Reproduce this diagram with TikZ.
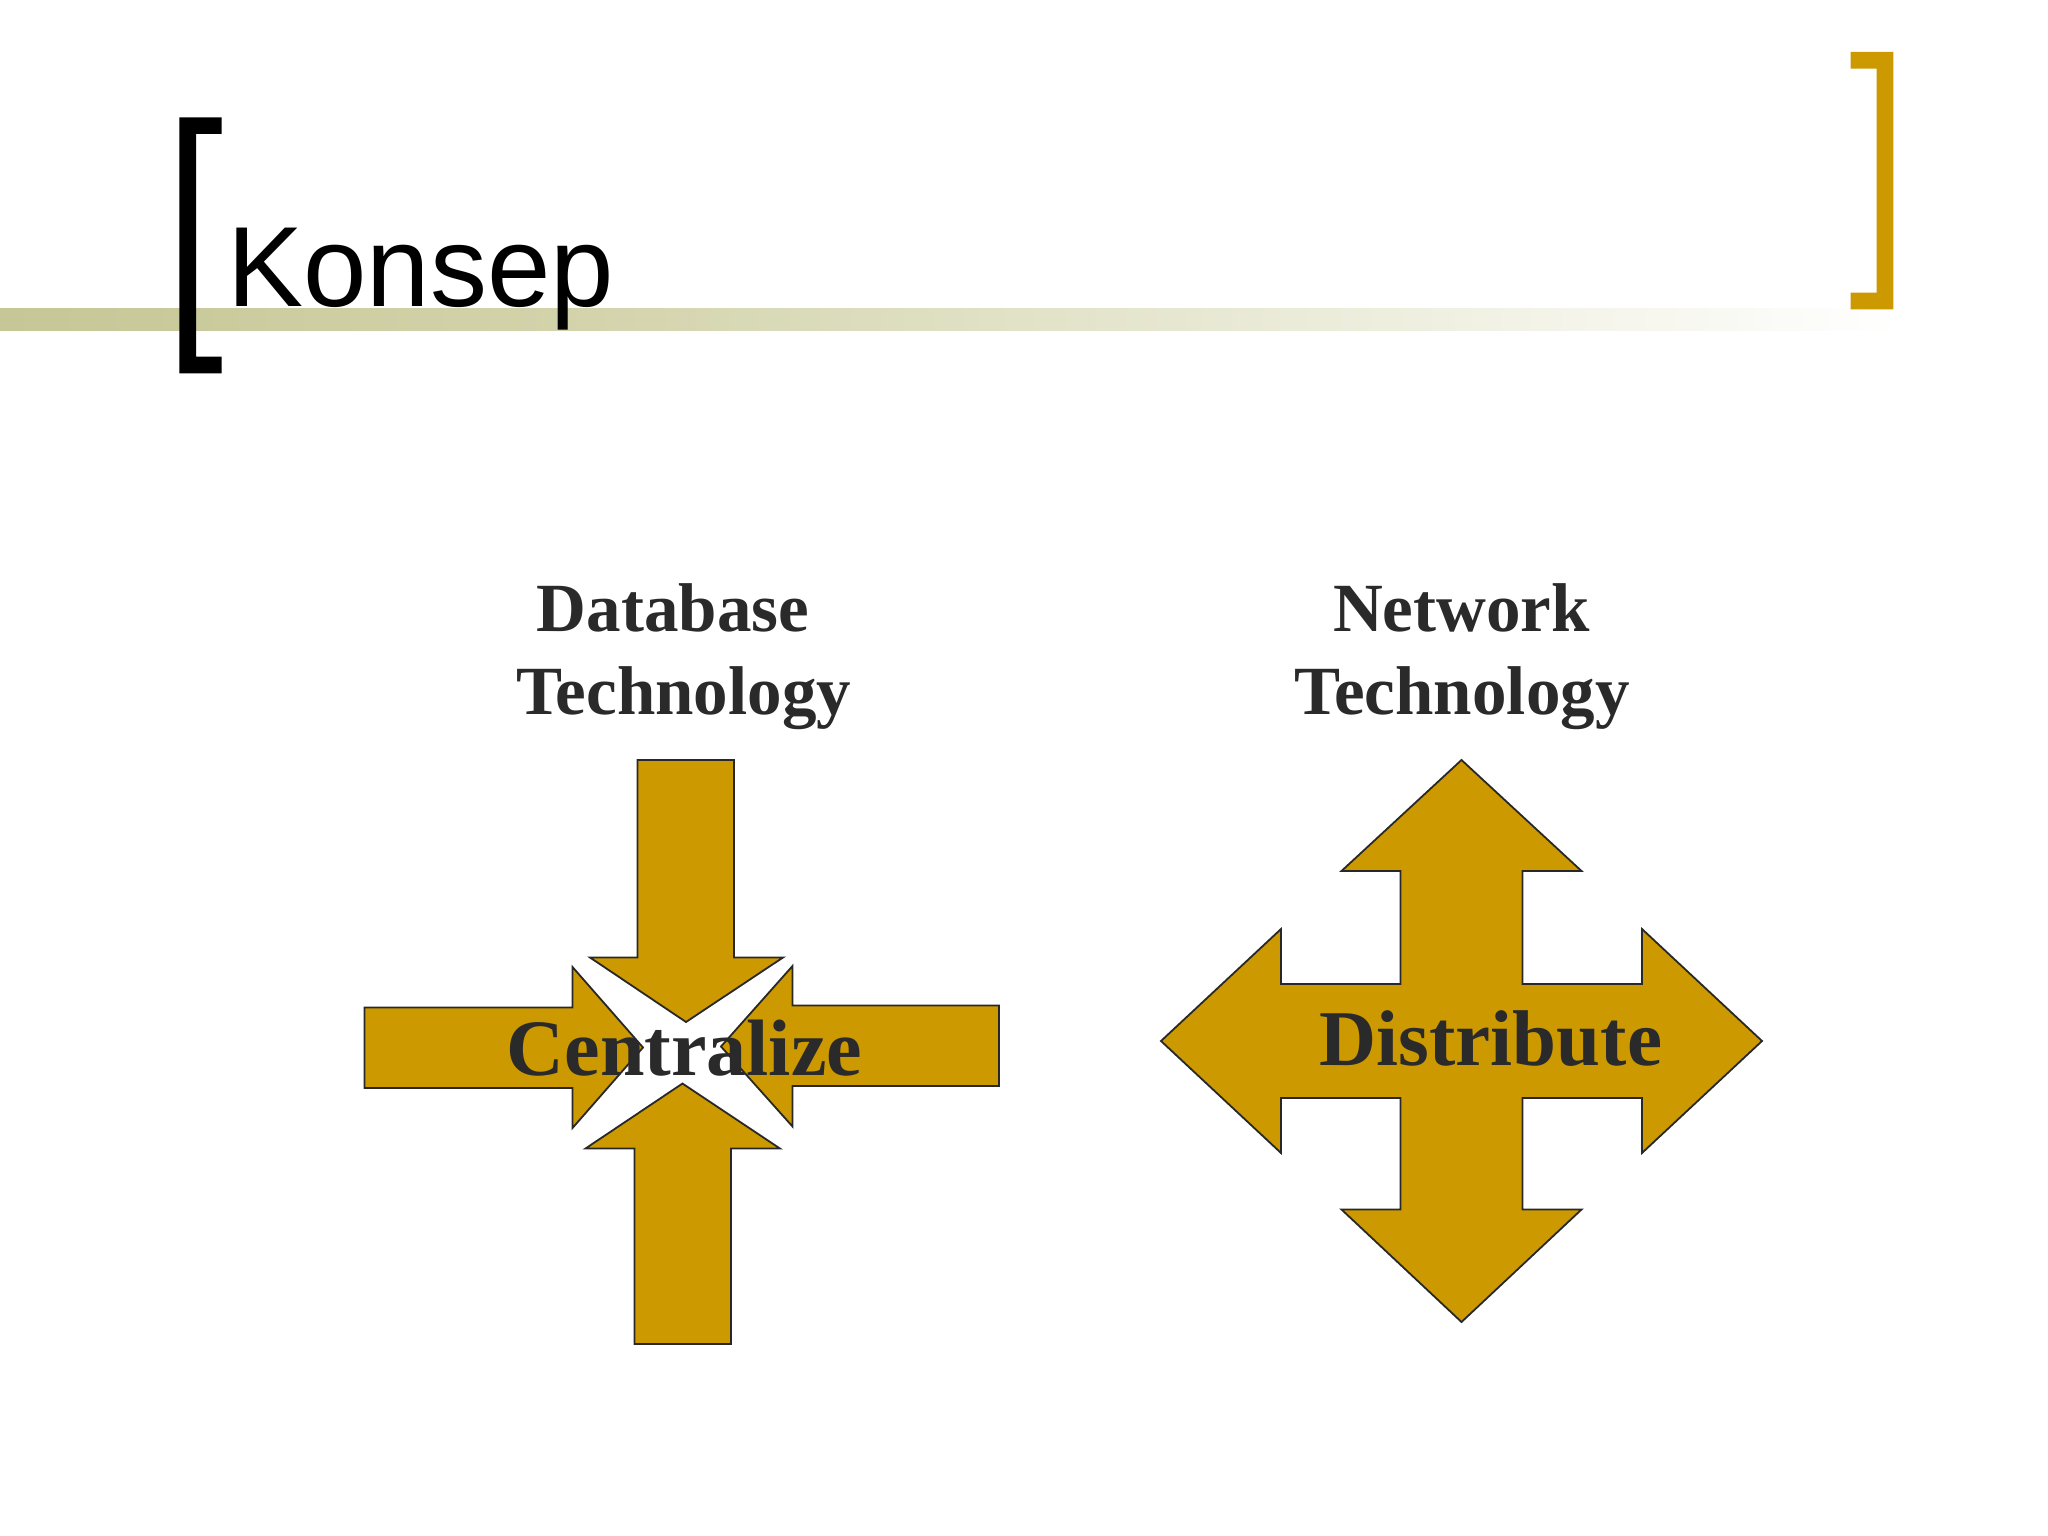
\documentclass[tikz,border=0pt]{standalone}
\usepackage{fontspec}
\newfontfamily\serifbold{Liberation Serif}
\newfontfamily\sansfam{Liberation Sans}
\definecolor{gold}{RGB}{204,153,0}
\definecolor{outline}{RGB}{40,40,40}
\definecolor{labeltext}{RGB}{42,42,42}
\definecolor{olivebar}{RGB}{198,199,150}
\definecolor{olivemid}{RGB}{210,211,170}
\tikzset{
  arrowshape/.style={fill=gold, draw=outline, line width=1.8pt, line join=miter},
  bigword/.style={inner sep=0pt, anchor=base, text=labeltext, font=\serifbold\bfseries\fontsize{80}{96}\selectfont},
  headword/.style={inner sep=0pt, anchor=base, text=labeltext, font=\serifbold\bfseries\fontsize{69}{82}\selectfont},
  titleword/.style={inner sep=0pt, anchor=base west, text=black, font=\sansfam\fontsize{114}{136}\selectfont}
}
\begin{document}
\begin{tikzpicture}[x=1pt,y=-1pt]
\useasboundingbox (0,0) rectangle (2048,1536);
\fill[white] (0,0) rectangle (2048,1536);
% gradient bar
\shade[left color=olivebar, right color=olivemid] (0,308.5) rectangle (560,330.5);
\shade[left color=olivemid, right color=white] (560,308.5) rectangle (1905,330.5);
% brackets
\fill[black] (179.3,117.3) -- (221.7,117.3) -- (221.7,134) -- (196,134) -- (196,356.6) -- (221.7,356.6) -- (221.7,373.3) -- (179.3,373.3) -- cycle;
\fill[gold] (1893.3,52) -- (1850.7,52) -- (1850.7,68.7) -- (1876.7,68.7) -- (1876.7,292.6) -- (1850.7,292.6) -- (1850.7,309.3) -- (1893.3,309.3) -- cycle;
% title
\node[titleword] (title) at (227,306) {Konsep};
% labels
\node[headword] (db1) at (673,631.7) {Database};
\node[headword] (db2) at (683.5,714) {Technology};
\node[headword] (nt1) at (1461.5,631.7) {Network};
\node[headword] (nt2) at (1462,714) {Technology};
% centralize arrows
\draw[arrowshape] (637.5,760) -- (734,760) -- (734,957.5) -- (783,957.5) -- (686,1022) -- (590,957.5) -- (637.5,957.5) -- cycle;
\draw[arrowshape] (634.5,1344) -- (731,1344) -- (731,1148.5) -- (780,1148.5) -- (682.5,1083.5) -- (585.5,1148.5) -- (634.5,1148.5) -- cycle;
\draw[arrowshape] (364.5,1007.5) -- (572.5,1007.5) -- (572.5,967) -- (643,1047.5) -- (572.5,1128) -- (572.5,1088) -- (364.5,1088) -- cycle;
\draw[arrowshape] (999,1005.5) -- (792.5,1005.5) -- (792.5,966) -- (721,1046.5) -- (792.5,1126.5) -- (792.5,1086) -- (999,1086) -- cycle;
\node[bigword] (cent) at (684.5,1075) {Centralize};
% distribute arrow
\draw[arrowshape] (1461.5,760) -- (1581.5,871) -- (1522.5,871) -- (1522.5,984) -- (1642,984) -- (1642,929) -- (1762,1041) -- (1642,1153) -- (1642,1098) -- (1522.5,1098) -- (1522.5,1209.5) -- (1581.5,1209.5) -- (1461.5,1322) -- (1341.5,1209.5) -- (1400.5,1209.5) -- (1400.5,1098) -- (1281,1098) -- (1281,1153) -- (1161,1041) -- (1281,929) -- (1281,984) -- (1400.5,984) -- (1400.5,871) -- (1341.5,871) -- cycle;
\node[bigword, font=\serifbold\bfseries\fontsize{79}{95}\selectfont] (dist) at (1491,1065.7) {Distribute};
\end{tikzpicture}
\end{document}
